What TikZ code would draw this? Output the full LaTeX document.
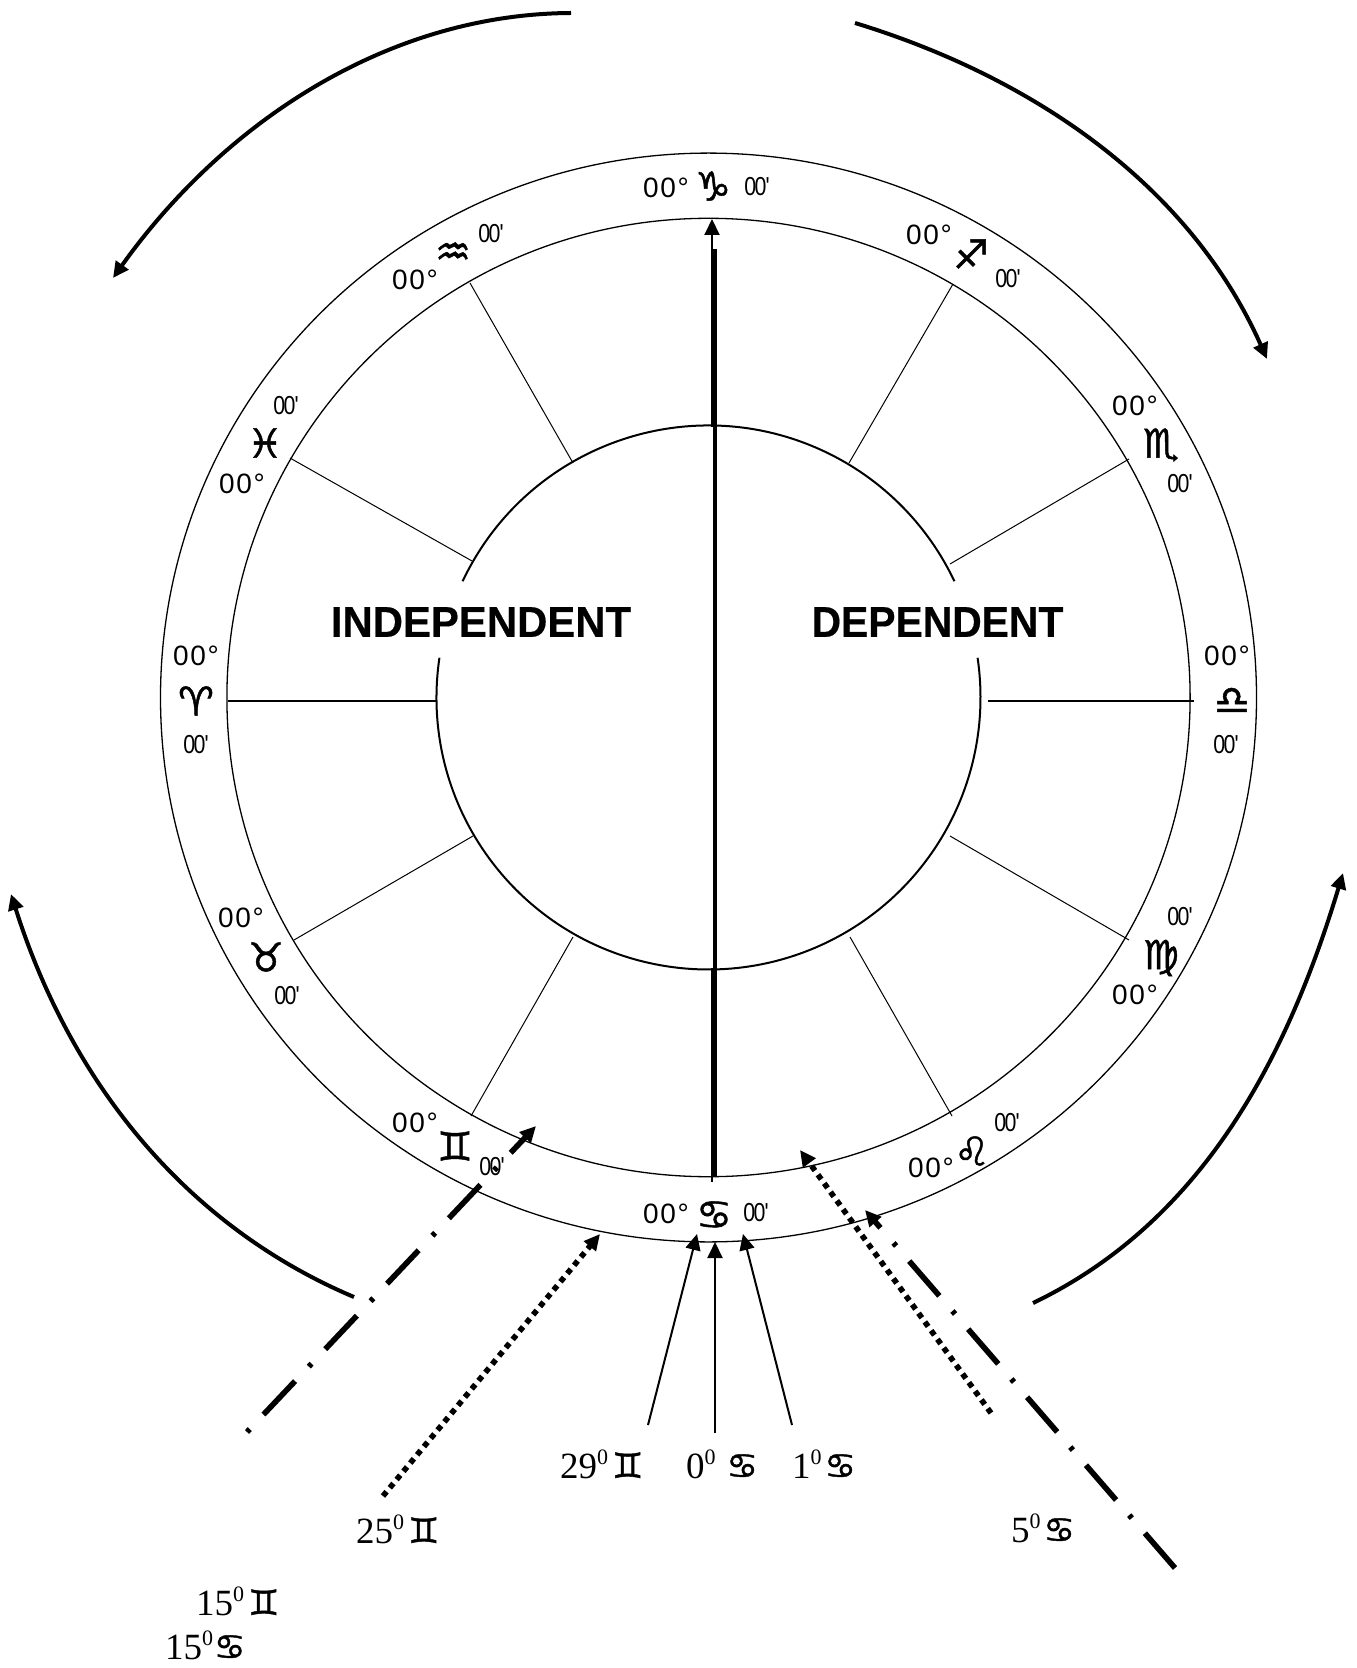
\documentclass[tikz,border=0pt]{standalone}
\usepackage{fontspec}
\usetikzlibrary{arrows.meta}
\setmainfont{Liberation Serif}
\newfontfamily\lblfont[LetterSpace=6]{Liberation Sans}
\newfontfamily\minfont[FakeStretch=0.82]{Liberation Sans}
\newfontfamily\symfont[FakeBold=1.2]{DejaVu Sans Bold}
\newfontfamily\ttlfont[FakeStretch=0.97,FakeBold=0.4]{Liberation Sans Bold}
\newfontfamily\ttlfontb[FakeStretch=0.945,FakeBold=0.4]{Liberation Sans Bold}
\newcommand{\zdeg}{{\fontsize{14}{14}\lblfont 00°}}
\newcommand{\zmin}{{\fontsize{13}{13}\minfont 0\kern-0.8pt 0\kern-0.5pt'}}
\newcommand{\zsym}[1]{{\fontsize{20}{20}\symfont #1}}
\newcommand{\zsymb}[1]{{\fontsize{17.5}{17.5}\symfont #1}}
\newcommand{\zsup}{\raisebox{6.6pt}{\fontsize{11}{11}\selectfont 0}}
\begin{document}
\begin{tikzpicture}[x=0.5pt,y=-0.5pt,
  ring/.style={line width=0.65pt},
  hub/.style={line width=1pt},
  spoke/.style={line width=0.5pt},
  hspoke/.style={line width=1pt},
  tip/.style={-{Triangle[length=8pt,width=7.5pt]}},
  thinarrow/.style={line width=1pt,tip},
  sweep/.style={line width=2pt,tip},
  dashdot/.style={line width=2.8pt,tip,dash pattern=on 23pt off 10pt on 2pt off 10pt},
  dotline/.style={line width=2.8pt,tip,dash pattern=on 2.8pt off 2.55pt},
  lbl/.style={inner sep=0pt,outer sep=0pt,anchor=center},
  btm/.style={inner sep=0pt,outer sep=0pt,anchor=base west,font=\fontsize{18.5}{18.5}\selectfont},
  ttl/.style={inner sep=0pt,outer sep=0pt}]
\useasboundingbox (0,0) rectangle (1356,1668);

% rings
\coordinate (c) at (708.5,697.5);
\draw[ring] (c) ellipse[x radius=274pt,y radius=272.2pt];
\draw[ring] (c) ellipse[x radius=240.8pt,y radius=239.6pt];
\draw[hub] (c) ++(154.7:136pt) arc[start angle=154.7,end angle=25.3,radius=136pt];
\draw[hub] (c) ++(171.6:136pt) arc[start angle=171.6,end angle=368.4,radius=136pt];

% spokes
\draw[spoke] (849,463) -- (953,284);
\draw[spoke] (573,463) -- (470,283);
\draw[spoke] (950,564) -- (1129,459);
\draw[spoke] (472,561) -- (290,458);
\draw[hspoke] (228,701) -- (436,701);
\draw[hspoke] (988,701) -- (1194,701);
\draw[spoke] (473,836) -- (294,940);
\draw[spoke] (573,937) -- (471,1116);
\draw[spoke] (850,937) -- (952,1116);
\draw[spoke] (950,836) -- (1129,940);

% central axis
\coordinate (axT) at (712,250);
\coordinate (axTip) at (712,219);
\draw[line width=1pt,tip] (axT) -- (axTip);
\draw[line width=3pt] (714,249) -- (714,427);
\draw[line width=2pt] (715,427) -- (715,968);
\draw[line width=3pt] (714,968) -- (714,1177);
\draw[line width=0.8pt] (712,1177) -- (712,1182);

% sweeping arrows
\coordinate (sa1) at (571,13);  \coordinate (sa2) at (113,278);
\coordinate (sb1) at (855,23);  \coordinate (sb2) at (1267,359);
\coordinate (sc1) at (354,1297);\coordinate (sc2) at (11,894);
\coordinate (sd1) at (1033,1303);\coordinate (sd2) at (1343,873);
\draw[sweep] (sa1) .. controls (385,14) and (222,125) .. (sa2);
\draw[sweep] (sb1) .. controls (1035,78) and (1190,186) .. (sb2);
\draw[sweep] (sc1) .. controls (179,1223) and (68,1074) .. (sc2);
\draw[sweep] (sd1) .. controls (1204,1221) and (1288,1055) .. (sd2);

% transit lines
\coordinate (dl1) at (247,1432); \coordinate (dl2) at (536,1126);
\coordinate (dr1) at (1175,1568); \coordinate (dr2) at (865,1210);
\draw[dashdot,dash phase=33pt] (dl1) -- (dl2);
\draw[dashdot] (dr1) -- (dr2);
\coordinate (pl1) at (383,1496); \coordinate (pl2) at (600,1234);
\coordinate (pr1) at (991,1413); \coordinate (pr2) at (800,1150);
\draw[dotline] (pl1) -- (pl2);
\draw[dotline] (pr1) -- (pr2);
\coordinate (t1a) at (648,1425); \coordinate (t1b) at (697,1234);
\coordinate (t2a) at (715,1433); \coordinate (t2b) at (715,1242);
\coordinate (t3a) at (792,1425); \coordinate (t3b) at (743,1234);
\draw[thinarrow] (t1a) -- (t1b);
\draw[thinarrow] (t2a) -- (t2b);
\draw[thinarrow] (t3a) -- (t3b);

% titles
\node[ttl,font=\fontsize{21.6}{21.6}\ttlfont] (indep) at (481,622) {INDEPENDENT};
\node[ttl,font=\fontsize{21.6}{21.6}\ttlfontb] (dep) at (937.5,622) {DEPENDENT};

% wheel labels
\node[lbl] (capD) at (666,188) {\zdeg};
\node[lbl] (capS) at (713,186) {\zsym{♑}};
\node[lbl] (capM) at (757,187) {\zmin};
\node[lbl] (sagD) at (929,235) {\zdeg};
\node[lbl] (sagS) at (971,254) {\zsym{♐}};
\node[lbl] (sagM) at (1008,279) {\zmin};
\node[lbl] (aquD) at (415,280) {\zdeg};
\node[lbl] (aquS) at (453,254) {\zsym{♒}};
\node[lbl] (aquM) at (491,234) {\zmin};
\node[lbl] (pisM) at (286,406) {\zmin};
\node[lbl] (pisS) at (265,443) {\zsym{♓}};
\node[lbl] (pisD) at (242,484) {\zdeg};
\node[lbl] (ariD) at (196,656) {\zdeg};
\node[lbl] (ariS) at (196,701) {\zsym{♈}};
\node[lbl] (ariM) at (196,745) {\zmin};
\node[lbl] (tauD) at (241,918) {\zdeg};
\node[lbl] (tauS) at (266,957) {\zsym{♉}};
\node[lbl] (tauM) at (287,996) {\zmin};
\node[lbl] (gemD) at (415,1123) {\zdeg};
\node[lbl] (gemS) at (455,1146) {\zsym{♊}};
\node[lbl] (gemM) at (492,1167) {\zmin};
\node[lbl] (cncD) at (666,1214) {\zdeg};
\node[lbl] (cncS) at (714,1215) {\zsym{♋}};
\node[lbl] (cncM) at (756,1213) {\zmin};
\node[lbl] (leoD) at (931,1168) {\zdeg};
\node[lbl] (leoS) at (972,1151) {\zsym{♌}};
\node[lbl] (leoM) at (1007,1123) {\zmin};
\node[lbl] (virM) at (1180,917) {\zmin};
\node[lbl] (virS) at (1161,958) {\zsym{♍}};
\node[lbl] (virD) at (1135,995) {\zdeg};
\node[lbl] (libD) at (1227,656) {\zdeg};
\node[lbl] (libS) at (1232,701) {\zsym{♎}};
\node[lbl] (libM) at (1226,745) {\zmin};
\node[lbl] (scoD) at (1135,406) {\zdeg};
\node[lbl] (scoS) at (1161,445) {\zsym{♏}};
\node[lbl] (scoM) at (1180,484) {\zmin};

% lower labels
\node[btm] (l29) at (560,1478) {29\zsup\kern2pt\zsymb{♊}};
\node[btm] (l0) at (686,1478) {0\zsup\kern5.5pt\zsymb{♋}};
\node[btm] (l1) at (792,1478) {1\zsup\kern1.5pt\zsymb{♋}};
\node[btm] (l25) at (356,1543) {25\zsup\kern2pt\zsymb{♊}};
\node[btm] (l5) at (1011,1542) {5\zsup\kern1.5pt\zsymb{♋}};
\node[btm] (l15g) at (196,1615) {15\zsup\kern2pt\zsymb{♊}};
\node[btm] (l15c) at (165,1659) {15\zsup\kern0.5pt\zsymb{♋}};
\end{tikzpicture}
\end{document}
